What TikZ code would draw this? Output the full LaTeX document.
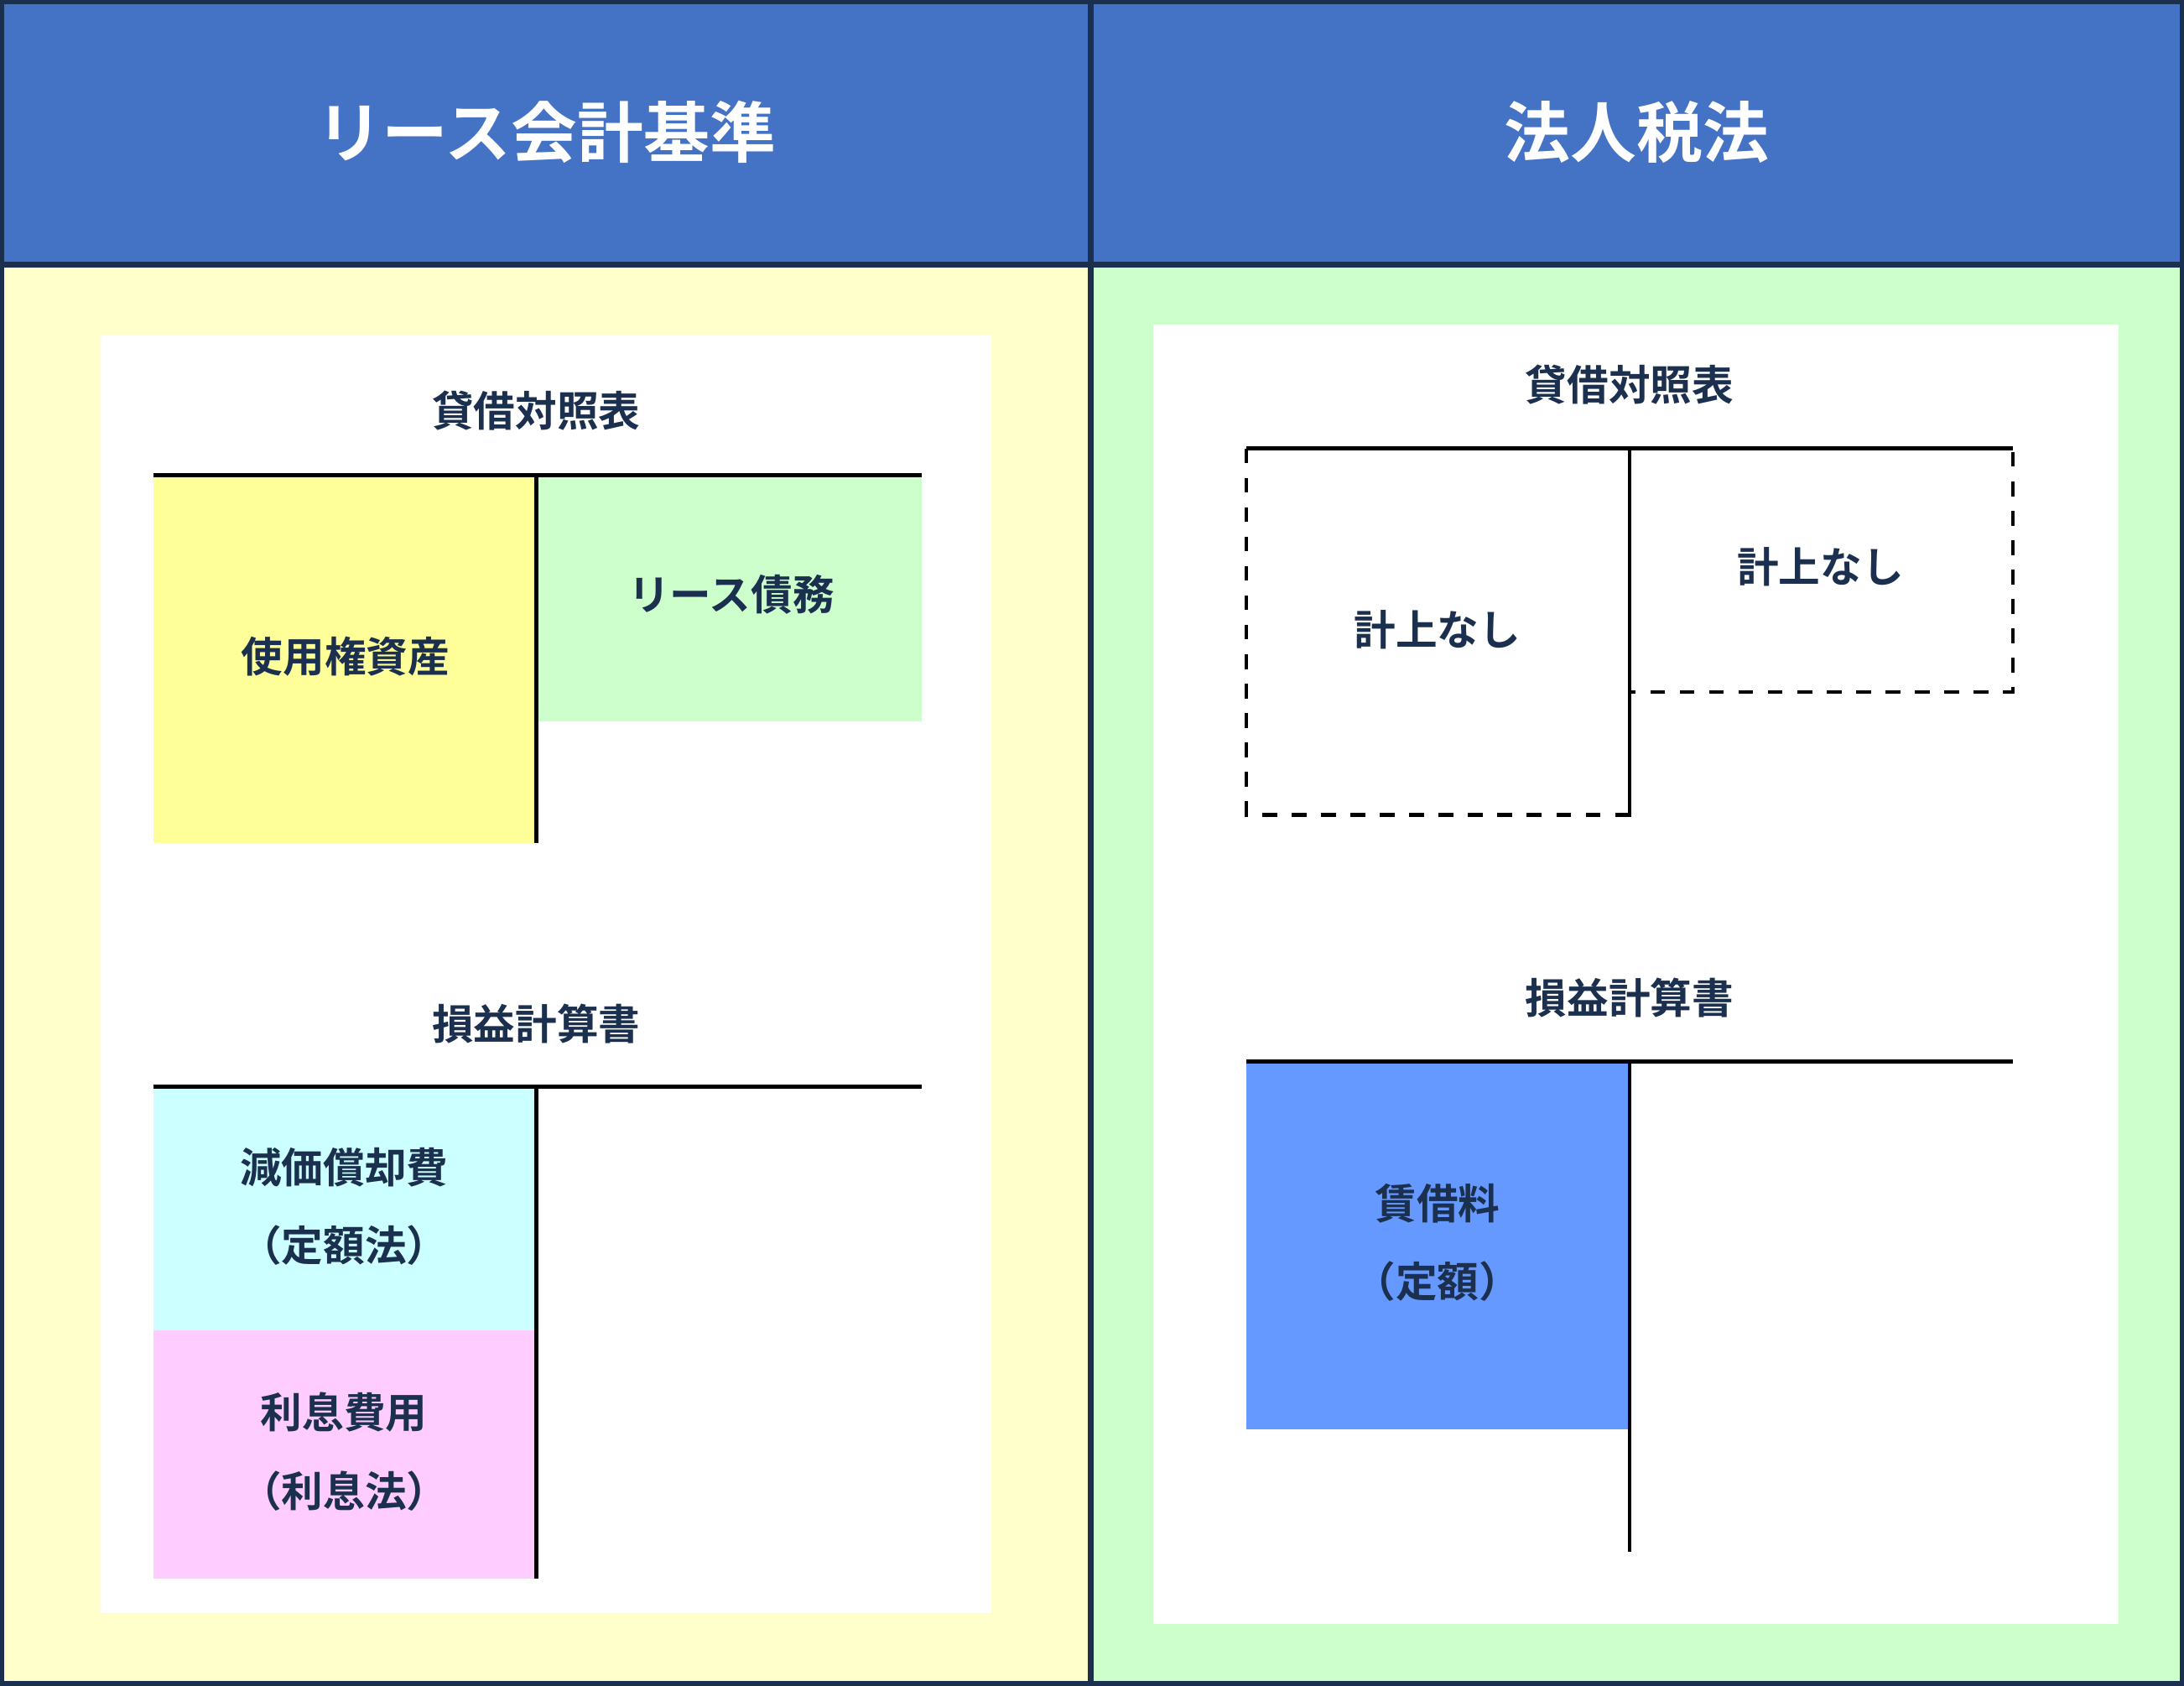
\documentclass[tikz,border=0pt]{standalone}
\usepackage{fontspec}
\newfontfamily\jp{Noto Sans CJK JP}[BoldFont={Noto Sans CJK JP Bold}]
\definecolor{navy}{HTML}{1B2F4E}
\definecolor{headblue}{HTML}{4472C4}
\definecolor{paleyellow}{HTML}{FFFFCC}
\definecolor{palegreen}{HTML}{CCFFCC}
\definecolor{assetyellow}{HTML}{FFFF99}
\definecolor{costcyan}{HTML}{CCFFFF}
\definecolor{costpink}{HTML}{FFCCFF}
\definecolor{rentblue}{HTML}{6699FF}
\begin{document}
\begin{tikzpicture}[x=0.01cm,y=-0.01cm]
		\tikzset{
			head/.style={text=white,font=\jp\bfseries\fontsize{13.5}{16}\selectfont},
			title/.style={text=navy,font=\jp\bfseries\fontsize{8.5}{10}\selectfont},
			label/.style={text=navy,font=\jp\bfseries\fontsize{8.5}{16}\selectfont,align=center},
			rule/.style={line width=0.8pt,black}
		}
		\useasboundingbox (0,0) rectangle (1568,1210);
		
		% Panels
		\fill[headblue] (0,0) rectangle (783,190);
		\fill[headblue] (783,0) rectangle (1568,190);
		\fill[paleyellow] (0,190) rectangle (783,1210);
		\fill[palegreen] (783,190) rectangle (1568,1210);
		\fill[white] (72,240) rectangle (712,1158);
		\fill[white] (828,233) rectangle (1521,1166);
		\draw[navy,line width=1.2pt] (1,1) rectangle (1567,1209);
		\draw[navy,line width=1.2pt] (783,0) -- (783,1210) (0,190) -- (1568,190);
		\node[head] (hl) at (392,95) {リース会計基準};
		\node[head] (hr) at (1175,95) {法人税法};
		
		% Left: balance sheet
		\fill[assetyellow] (110,341) rectangle (385,605);
		\fill[palegreen] (385,341) rectangle (662,518);
		\node[title] (bsl) at (385,295) {貸借対照表};
		\coordinate (bslA) at (110,341);
		\coordinate (bslB) at (662,341);
		\coordinate (bslT) at (385,341);
		\coordinate (bslE) at (385,605);
		\draw[rule] (bslA) -- (bslB);
		\draw[rule] (bslT) -- (bslE);
		\node[label] (rou) at (248,471) {使用権資産};
		\node[label] (debt) at (525,427) {リース債務};
		
		% Left: income statement
		\fill[costcyan] (110,780) rectangle (385,955);
		\fill[costpink] (110,955) rectangle (385,1133);
		\node[title] (pll) at (385,735) {損益計算書};
		\coordinate (pllA) at (110,780);
		\coordinate (pllB) at (662,780);
		\coordinate (pllT) at (385,780);
		\coordinate (pllE) at (385,1133);
		\draw[rule] (pllA) -- (pllB);
		\draw[rule] (pllT) -- (pllE);
		\node[label] (dep) at (247,866) {減価償却費\\（定額法）};
		\node[label] (int) at (247,1042) {利息費用\\（利息法）};
		
		% Right: balance sheet
		\node[title] (bsr) at (1170,276) {貸借対照表};
		\draw[dashed,line width=0.7pt] (895,322) rectangle (1170,585);
		\draw[dashed,line width=0.7pt] (1170,322) rectangle (1445,497);
		\coordinate (bsrA) at (895,322);
		\coordinate (bsrB) at (1445,322);
		\coordinate (bsrT) at (1170,322);
		\coordinate (bsrE) at (1170,585);
		\draw[rule] (bsrA) -- (bsrB);
		\draw[rule] (bsrT) -- (bsrE);
		\node[label] (nil1) at (1032,452) {計上なし};
		\node[label] (nil2) at (1307,407) {計上なし};
		
		% Right: income statement
		\fill[rentblue] (895,762) rectangle (1170,1026);
		\node[title] (plr) at (1170,716) {損益計算書};
		\coordinate (plrA) at (895,762);
		\coordinate (plrB) at (1445,762);
		\coordinate (plrT) at (1170,762);
		\coordinate (plrE) at (1170,1114);
		\draw[rule] (plrA) -- (plrB);
		\draw[rule] (plrT) -- (plrE);
		\node[label] (rent) at (1032,892) {賃借料\\（定額）};
		
		\end{tikzpicture}
\end{document}
